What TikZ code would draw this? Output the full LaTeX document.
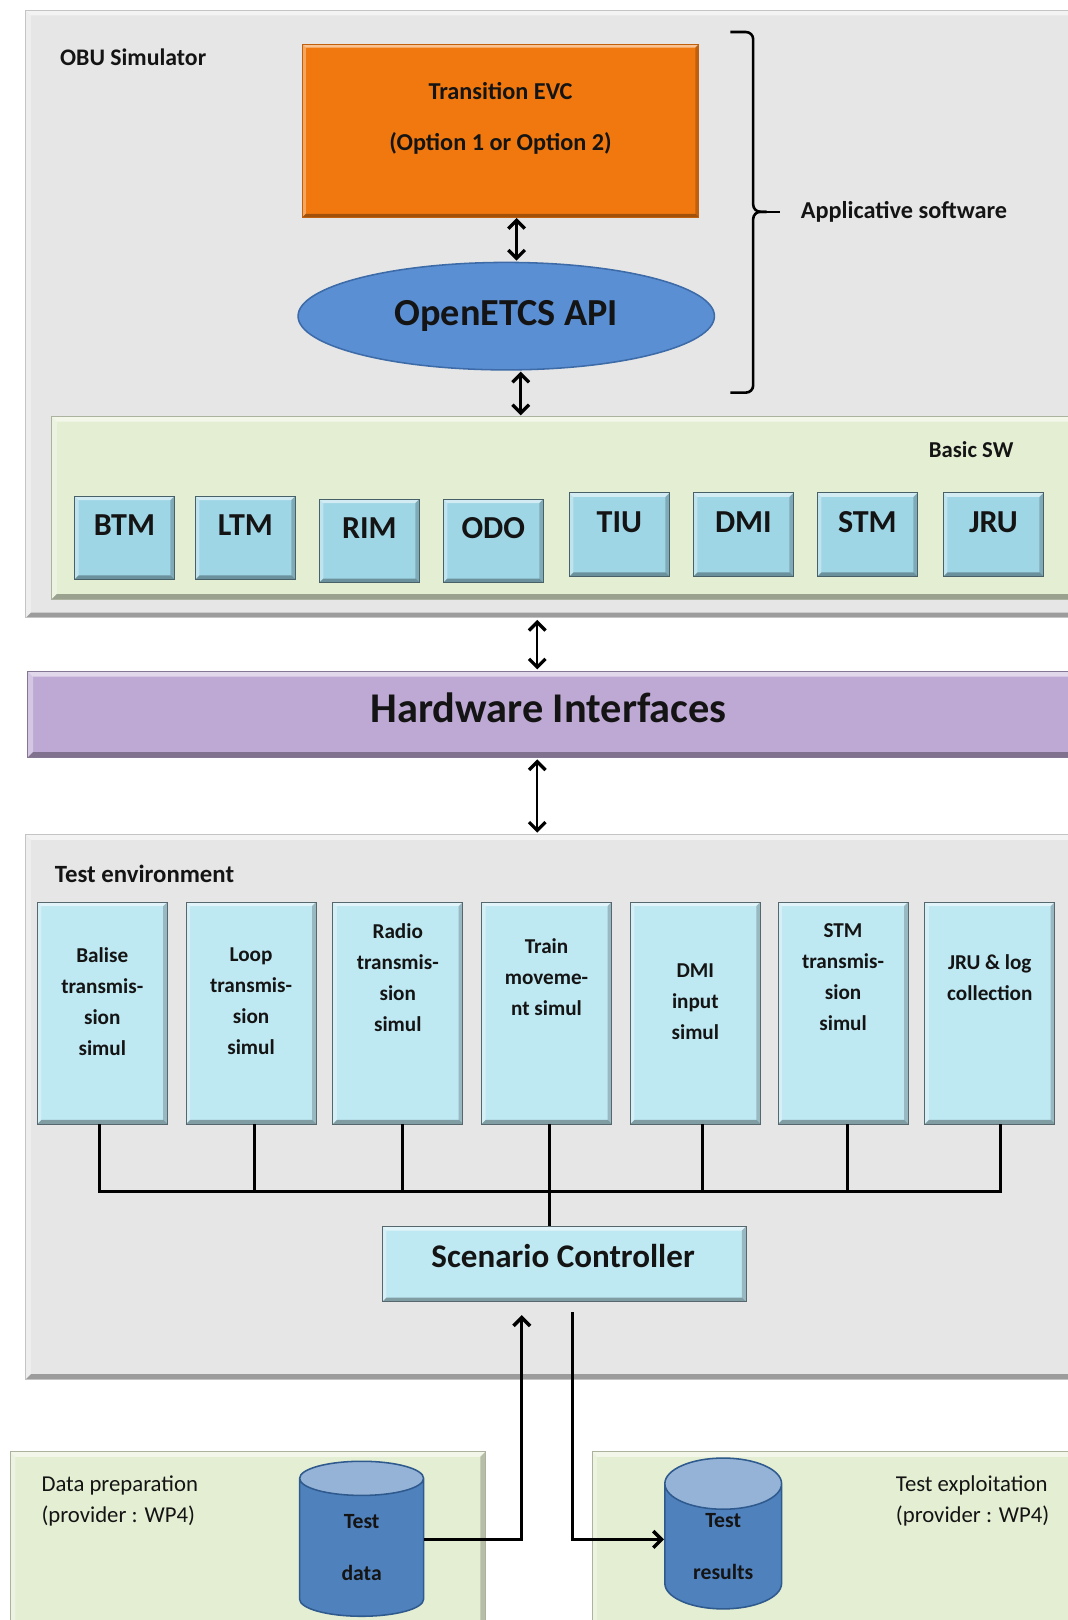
\documentclass[tikz,border=0pt]{standalone}
\usepackage{fontspec}
\setmainfont{Carlito}
\usetikzlibrary{shapes.geometric,arrows.meta,calc}
\definecolor{panelgray}{HTML}{E6E6E6}
\definecolor{panelline}{HTML}{C4C4C4}
\definecolor{lgreen}{HTML}{E4EED2}
\definecolor{modblue}{HTML}{9FD6E6}
\definecolor{simblue}{HTML}{BEE8F2}
\definecolor{evcorange}{HTML}{F0780F}
\definecolor{apiblue}{HTML}{5B8FD4}
\definecolor{apiline}{HTML}{3C6BA8}
\definecolor{hwpurple}{HTML}{BEA9D4}
\definecolor{cylbody}{HTML}{4F81BD}
\definecolor{cyltop}{HTML}{95B3D7}
\definecolor{cylline}{HTML}{2F5A8E}
\definecolor{txt}{HTML}{141414}
\begin{document}
\begin{tikzpicture}[x=1pt,y=-1pt,
  bevel/.style={path picture={
    \fill[white,opacity=.55] (path picture bounding box.north west) -- (path picture bounding box.north east) -- ([xshift=-#1,yshift=-#1]path picture bounding box.north east) -- ([xshift=#1,yshift=-#1]path picture bounding box.north west) -- cycle;
    \fill[white,opacity=.35] (path picture bounding box.north west) -- ([xshift=#1,yshift=-#1]path picture bounding box.north west) -- ([xshift=#1,yshift=#1]path picture bounding box.south west) -- (path picture bounding box.south west) -- cycle;
    \fill[black,opacity=.32] (path picture bounding box.south west) -- (path picture bounding box.south east) -- ([xshift=-#1,yshift=#1]path picture bounding box.south east) -- ([xshift=#1,yshift=#1]path picture bounding box.south west) -- cycle;
    \fill[black,opacity=.20] (path picture bounding box.north east) -- (path picture bounding box.south east) -- ([xshift=-#1,yshift=#1]path picture bounding box.south east) -- ([xshift=-#1,yshift=-#1]path picture bounding box.north east) -- cycle;
  }},
  box/.style={rectangle, inner sep=0pt, outer sep=0pt, anchor=north west},
  panel/.style={box, fill=panelgray, draw=panelline, line width=1pt, bevel=5pt},
  greenp/.style={box, fill=lgreen, draw=lgreen!75!black, line width=0.8pt, bevel=5pt},
  modbox/.style={box, fill=modblue, draw=modblue!45!black, line width=0.8pt, bevel=4pt, minimum width=97, minimum height=81},
  simbox/.style={box, fill=simblue, draw=simblue!45!black, line width=0.8pt, bevel=4pt},
  lbl/.style={font=\fontsize{23}{27}\selectfont\bfseries, text=txt, inner sep=0pt},
  modtxt/.style={font=\fontsize{31}{36}\selectfont\bfseries, text=txt, inner sep=0pt},
  simtxt/.style={font=\fontsize{20.5}{30}\selectfont\bfseries, text=txt, inner sep=0pt, align=center},
  reg/.style={font=\fontsize{22}{30}\selectfont, text=txt, inner sep=0pt, align=left},
  dbl/.style={{Straight Barb[length=8pt,width=16pt,line width=3.2pt]}-{Straight Barb[length=8pt,width=16pt,line width=3.2pt]}, line width=2.4pt},
  arr/.style={-{Straight Barb[length=8pt,width=16pt,line width=3.4pt]}, line width=2.6pt},
  busline/.style={line width=2.8pt, line join=miter},
  cyl/.style={cylinder, shape border rotate=90, aspect=0.85, draw=cylline, line width=1.5pt, cylinder uses custom fill, cylinder body fill=cylbody, cylinder end fill=cyltop, inner sep=0pt, font=\fontsize{21}{50}\selectfont\bfseries, text=txt, align=center}
]
\useasboundingbox (0,0) rectangle (1033,1568);
\fill[white] (0,0) rectangle (1033,1568);

% ---------- OBU simulator ----------
\node[panel, minimum width=1020, minimum height=588] (obu) at (25,10) {};
\node[lbl, anchor=west] (obulbl) at (58,55) {OBU Simulator};

\node[box, fill=evcorange, draw=evcorange!80!black, line width=0.8pt, bevel=3pt, minimum width=383, minimum height=167] (evc) at (293,43) {};
\node[lbl, font=\fontsize{23.5}{28}\selectfont\bfseries] (evct1) at (484.5,88) {Transition EVC};
\node[lbl, font=\fontsize{23.5}{28}\selectfont\bfseries] (evct2) at (484.5,139) {(Option 1 or Option 2)};

\node[ellipse, fill=apiblue, draw=apiline, line width=1.5pt, inner sep=0pt, minimum width=403, minimum height=104, font=\fontsize{37}{42}\selectfont\bfseries, text=txt] (api) at (490,306) {OpenETCS API};

% brace
\draw[line width=2.5pt, rounded corners=7pt] (707,31) -- (729,31) -- (729,205) -- (742,205);
\draw[line width=2.5pt, rounded corners=7pt] (707,380) -- (729,380) -- (729,205) -- (742,205);
\draw[line width=2.5pt] (738,205) -- (755,205);
\node[lbl, anchor=west, font=\fontsize{23.5}{28}\selectfont\bfseries] (appl) at (775,205) {Applicative software};

% Basic SW
\node[greenp, minimum width=1000, minimum height=177] (bsw) at (50,403) {};
\node[lbl, anchor=east, font=\fontsize{22}{26}\selectfont\bfseries] (bswl) at (981,435) {Basic SW};
\foreach \n/\x/\y in {BTM/72/480,LTM/189/480,RIM/309/483,ODO/429/483,TIU/551/477,DMI/671/477,STM/791/477,JRU/913/477}{
  \node[modbox] (m\n) at (\x,\y) {};
  \node[modtxt] (t\n) at ($(m\n.north)+(0,28)$) {\n};
}

% ---------- Hardware interfaces ----------
\node[box, fill=hwpurple, draw=hwpurple!70!black, line width=0.8pt, bevel=5pt, minimum width=1013, minimum height=83] (hw) at (27,650) {};
\node[lbl, font=\fontsize{41}{46}\selectfont\bfseries] (hwt) at (531,685) {Hardware Interfaces};

% ---------- Test environment ----------
\node[panel, minimum width=1020, minimum height=527] (te) at (25,808) {};
\node[lbl, anchor=west, font=\fontsize{24}{28}\selectfont\bfseries] (telbl) at (53,846) {Test environment};

\foreach \n/\x/\yc/\lab in {
  Balise/36/969.5/{Balise\\transmis-\\sion\\simul},
  Loop/180/969.5/{Loop\\transmis-\\sion\\simul},
  Radio/322/946/{Radio\\transmis-\\sion\\simul},
  Train/466/945.5/{Train\\moveme-\\nt simul},
  DMI/610/970/{DMI\\input\\simul},
  STM/753/946/{STM\\transmis-\\sion\\simul},
  JRU/895/946/{JRU \& log\\collection}}{
  \node[simbox, minimum width=126, minimum height=215] (s\n) at (\x,873) {};
  \node[simtxt] (st\n) at (\x+63,\yc) {\lab};
}

\node[simbox, minimum width=352, minimum height=73] (sc) at (370,1187) {};
\node[lbl, font=\fontsize{32}{37}\selectfont\bfseries] (sct) at (545,1216) {Scenario Controller};

% bus
\draw[busline] (96,0 |- sBalise.south) -- (96,1153) -- (968,1153) -- (968,0 |- sJRU.south);
\foreach \n/\x in {Loop/246,Radio/390,DMI/680,STM/820}{
  \draw[busline] (\x,0 |- s\n.south) -- (\x,1153);
}
\draw[busline] (532,0 |- sTrain.south) -- (532,0 |- sc.north);

% ---------- bottom panels ----------
\node[greenp, minimum width=460, minimum height=185] (dp) at (10,1405) {};
\node[reg, anchor=west] (dpl) at (40,1453) {Data preparation\\(provider : WP4)};
\node[greenp, minimum width=480, minimum height=185] (tx) at (573,1405) {};
\node[reg, anchor=west] (txl) at (867,1453) {Test exploitation\\(provider : WP4)};

\node[cyl, minimum width=120, minimum height=150] (td) at (350,1498) {Test\\data};
\node[cyl, minimum width=113, minimum height=146] (tr) at (700,1497) {Test\\results};

% ---------- arrows ----------
\draw[dbl, shorten <=1pt, shorten >=1pt] (500,0 |- evc.south) -- (500,0 |- api.north);
\draw[dbl, shorten <=1pt, shorten >=1pt] (504,0 |- api.south) -- (504,0 |- bsw.north);
\draw[dbl, shorten <=2pt, shorten >=2pt] (520,0 |- obu.south) -- (520,0 |- hw.north);
\draw[dbl, shorten <=2pt, shorten >=2pt] (520,0 |- hw.south) -- (520,0 |- te.north);
\draw[arr, shorten >=13pt] ([yshift=8pt]td.east) -| (505,0 |- sc.south);
\draw[arr, shorten <=10pt] (554,0 |- sc.south) |- ([yshift=7pt]tr.west);
\end{tikzpicture}
\end{document}
